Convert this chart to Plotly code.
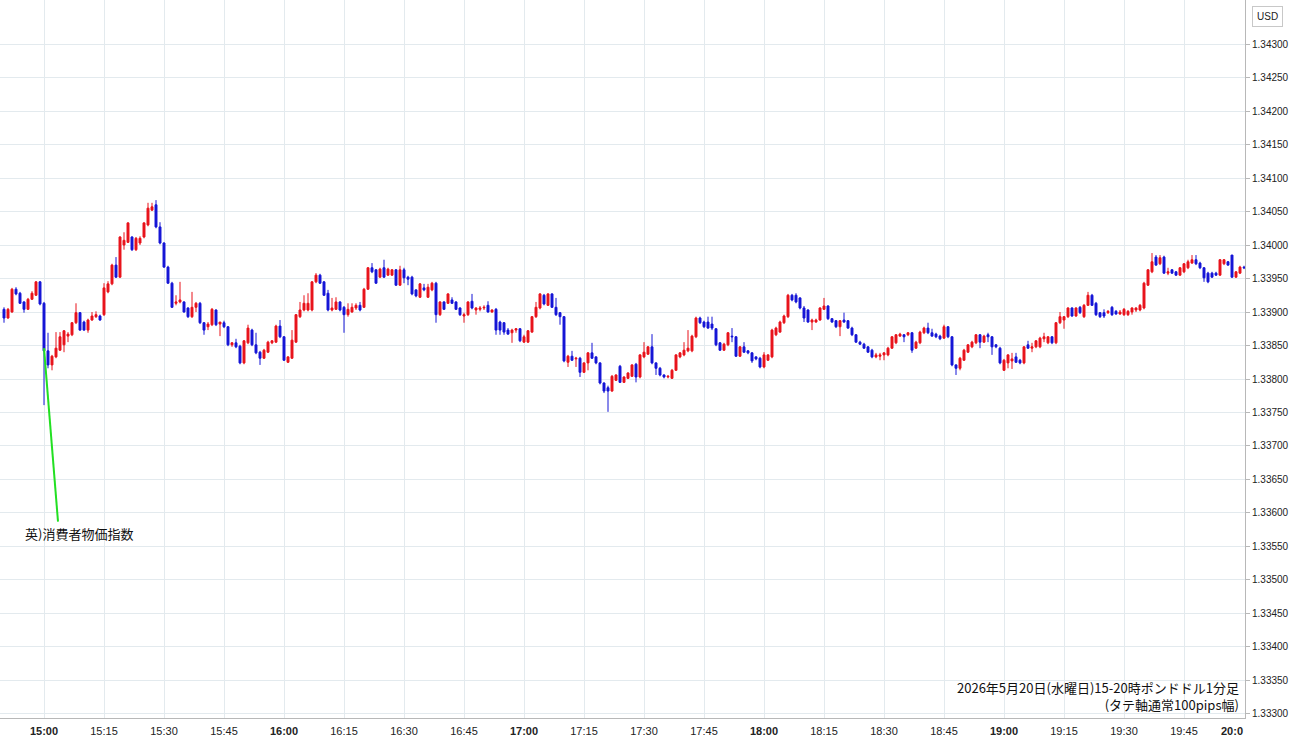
import plotly.graph_objects as go
import pandas as pd

# GBP/USD 1-minute candles, 2026-05-20 14:50 - 20:00
start_time = "2026-05-20 14:50"

opens = [
    1.33904,1.33891,1.33900,1.33934,1.33928,1.33915,1.33904,1.33919,1.33925,1.33945,
    1.33913,1.33842,1.33821,1.33833,1.33843,1.33851,1.33864,1.33866,1.33884,1.33899,
    1.33885,1.33873,1.33888,1.33893,1.33894,1.33896,1.33930,1.33942,1.33970,1.33952,
    1.34000,1.34004,1.34012,1.33993,1.34003,1.34012,1.34030,1.34052,1.34060,1.34027,
    1.34003,1.33967,1.33943,1.33913,1.33915,1.33915,1.33906,1.33893,1.33907,1.33913,
    1.33884,1.33878,1.33881,1.33903,1.33882,1.33884,1.33878,1.33851,1.33854,1.33849,
    1.33824,1.33854,1.33873,1.33851,1.33840,1.33831,1.33840,1.33854,1.33855,1.33879,
    1.33863,1.33825,1.33831,1.33855,1.33893,1.33903,1.33903,1.33903,1.33945,1.33955,
    1.33945,1.33928,1.33903,1.33904,1.33915,1.33907,1.33896,1.33900,1.33906,1.33910,
    1.33907,1.33934,1.33966,1.33963,1.33952,1.33966,1.33955,1.33955,1.33963,1.33940,
    1.33963,1.33952,1.33952,1.33933,1.33922,1.33936,1.33922,1.33933,1.33943,1.33896,
    1.33915,1.33913,1.33918,1.33915,1.33906,1.33894,1.33896,1.33916,1.33903,1.33904,
    1.33906,1.33910,1.33900,1.33904,1.33885,1.33884,1.33873,1.33869,1.33873,1.33875,
    1.33855,1.33855,1.33870,1.33893,1.33906,1.33925,1.33910,1.33927,1.33907,1.33899,
    1.33893,1.33825,1.33834,1.33830,1.33831,1.33810,1.33824,1.33839,1.33833,1.33824,
    1.33794,1.33787,1.33782,1.33798,1.33819,1.33795,1.33801,1.33804,1.33822,1.33803,
    1.33833,1.33837,1.33848,1.33824,1.33816,1.33806,1.33803,1.33801,1.33813,1.33833,
    1.33836,1.33842,1.33842,1.33863,1.33891,1.33885,1.33885,1.33882,1.33875,1.33854,
    1.33843,1.33851,1.33864,1.33863,1.33834,1.33848,1.33842,1.33839,1.33833,1.33831,
    1.33818,1.33828,1.33833,1.33866,1.33870,1.33884,1.33893,1.33925,1.33925,1.33921,
    1.33906,1.33903,1.33885,1.33885,1.33888,1.33904,1.33909,1.33890,1.33887,1.33878,
    1.33888,1.33887,1.33876,1.33866,1.33855,1.33852,1.33848,1.33843,1.33833,1.33834,
    1.33836,1.33836,1.33846,1.33854,1.33864,1.33866,1.33866,1.33869,1.33846,1.33854,
    1.33869,1.33876,1.33869,1.33867,1.33864,1.33861,1.33878,1.33863,1.33821,1.33816,
    1.33828,1.33840,1.33848,1.33854,1.33866,1.33855,1.33866,1.33863,1.33851,1.33846,
    1.33813,1.33824,1.33827,1.33833,1.33828,1.33824,1.33851,1.33846,1.33848,1.33848,
    1.33860,1.33854,1.33863,1.33854,1.33884,1.33888,1.33893,1.33906,1.33894,1.33907,
    1.33893,1.33910,1.33925,1.33913,1.33899,1.33899,1.33899,1.33907,1.33901,1.33897,
    1.33896,1.33896,1.33900,1.33903,1.33903,1.33906,1.33940,1.33960,1.33982,1.33972,
    1.33982,1.33958,1.33963,1.33960,1.33955,1.33960,1.33966,1.33973,1.33978,1.33973,
    1.33966,1.33958,1.33958,1.33958,1.33955,1.33972,1.33975,1.33985,1.33952,1.33958,1.33967,
]

highs = [
    1.33907,1.33906,1.33936,1.33937,1.33930,1.33916,1.33921,1.33931,1.33946,1.33946,
    1.33915,1.33869,1.33836,1.33870,1.33870,1.33873,1.33870,1.33885,1.33913,1.33900,
    1.33887,1.33890,1.33900,1.33901,1.33896,1.33943,1.33946,1.33972,1.33982,1.34013,
    1.34019,1.34034,1.34013,1.34012,1.34013,1.34034,1.34063,1.34063,1.34067,1.34034,
    1.34004,1.33969,1.33945,1.33925,1.33945,1.33916,1.33907,1.33930,1.33915,1.33915,
    1.33885,1.33885,1.33906,1.33904,1.33885,1.33887,1.33879,1.33855,1.33860,1.33851,
    1.33858,1.33881,1.33875,1.33869,1.33842,1.33845,1.33857,1.33858,1.33881,1.33888,
    1.33864,1.33834,1.33873,1.33897,1.33915,1.33925,1.33928,1.33946,1.33958,1.33957,
    1.33946,1.33933,1.33921,1.33922,1.33916,1.33909,1.33913,1.33913,1.33913,1.33915,
    1.33936,1.33967,1.33973,1.33964,1.33966,1.33978,1.33966,1.33964,1.33964,1.33969,
    1.33966,1.33954,1.33954,1.33934,1.33943,1.33942,1.33942,1.33945,1.33945,1.33916,
    1.33916,1.33928,1.33922,1.33916,1.33907,1.33899,1.33916,1.33927,1.33907,1.33909,
    1.33910,1.33916,1.33904,1.33906,1.33887,1.33885,1.33876,1.33875,1.33876,1.33876,
    1.33866,1.33873,1.33894,1.33915,1.33928,1.33927,1.33928,1.33928,1.33921,1.33900,
    1.33894,1.33836,1.33842,1.33833,1.33833,1.33825,1.33840,1.33854,1.33834,1.33825,
    1.33795,1.33790,1.33806,1.33807,1.33821,1.33804,1.33810,1.33822,1.33824,1.33837,
    1.33855,1.33849,1.33867,1.33825,1.33818,1.33807,1.33806,1.33815,1.33837,1.33840,
    1.33855,1.33873,1.33866,1.33893,1.33893,1.33887,1.33893,1.33893,1.33876,1.33855,
    1.33854,1.33870,1.33876,1.33864,1.33849,1.33855,1.33843,1.33840,1.33834,1.33833,
    1.33840,1.33837,1.33875,1.33878,1.33887,1.33896,1.33927,1.33927,1.33928,1.33922,
    1.33909,1.33904,1.33890,1.33890,1.33907,1.33921,1.33910,1.33891,1.33888,1.33888,
    1.33899,1.33888,1.33878,1.33867,1.33857,1.33854,1.33849,1.33845,1.33839,1.33839,
    1.33840,1.33848,1.33864,1.33867,1.33869,1.33867,1.33870,1.33870,1.33857,1.33872,
    1.33878,1.33884,1.33875,1.33869,1.33866,1.33881,1.33879,1.33864,1.33822,1.33833,
    1.33845,1.33852,1.33857,1.33867,1.33867,1.33866,1.33869,1.33864,1.33852,1.33848,
    1.33830,1.33837,1.33839,1.33839,1.33830,1.33849,1.33857,1.33854,1.33858,1.33863,
    1.33869,1.33864,1.33864,1.33885,1.33900,1.33894,1.33907,1.33907,1.33907,1.33909,
    1.33912,1.33930,1.33927,1.33915,1.33900,1.33904,1.33903,1.33909,1.33903,1.33903,
    1.33906,1.33903,1.33907,1.33907,1.33912,1.33945,1.33964,1.33988,1.33985,1.33985,
    1.33984,1.33966,1.33964,1.33961,1.33967,1.33973,1.33978,1.33985,1.33985,1.33975,
    1.33967,1.33960,1.33960,1.33960,1.33979,1.33979,1.33976,1.33985,1.33961,1.33969,1.33969,
]

lows = [
    1.33884,1.33890,1.33899,1.33925,1.33912,1.33899,1.33903,1.33918,1.33924,1.33910,
    1.33761,1.33816,1.33813,1.33831,1.33842,1.33840,1.33855,1.33864,1.33882,1.33872,
    1.33872,1.33869,1.33887,1.33891,1.33887,1.33894,1.33928,1.33940,1.33951,1.33951,
    1.33993,1.34003,1.33991,1.33991,1.34000,1.34010,1.34028,1.34051,1.34025,1.34001,
    1.33966,1.33942,1.33906,1.33910,1.33913,1.33899,1.33891,1.33891,1.33900,1.33882,
    1.33866,1.33873,1.33879,1.33879,1.33864,1.33876,1.33849,1.33848,1.33846,1.33822,
    1.33822,1.33852,1.33849,1.33837,1.33821,1.33830,1.33839,1.33852,1.33854,1.33861,
    1.33827,1.33824,1.33830,1.33854,1.33891,1.33901,1.33901,1.33901,1.33943,1.33942,
    1.33924,1.33901,1.33901,1.33903,1.33901,1.33869,1.33893,1.33899,1.33903,1.33901,
    1.33906,1.33933,1.33958,1.33942,1.33951,1.33951,1.33954,1.33954,1.33939,1.33939,
    1.33943,1.33940,1.33925,1.33922,1.33921,1.33931,1.33921,1.33931,1.33884,1.33894,
    1.33903,1.33912,1.33912,1.33903,1.33894,1.33884,1.33894,1.33904,1.33896,1.33901,
    1.33903,1.33899,1.33899,1.33866,1.33866,1.33866,1.33866,1.33854,1.33869,1.33855,
    1.33854,1.33854,1.33869,1.33891,1.33904,1.33910,1.33909,1.33906,1.33894,1.33881,
    1.33825,1.33818,1.33827,1.33818,1.33803,1.33809,1.33813,1.33830,1.33822,1.33792,
    1.33779,1.33751,1.33781,1.33797,1.33794,1.33794,1.33800,1.33803,1.33795,1.33801,
    1.33831,1.33836,1.33822,1.33806,1.33804,1.33801,1.33801,1.33800,1.33812,1.33831,
    1.33834,1.33840,1.33840,1.33861,1.33882,1.33876,1.33875,1.33873,1.33849,1.33842,
    1.33842,1.33849,1.33855,1.33833,1.33833,1.33839,1.33837,1.33824,1.33828,1.33816,
    1.33816,1.33827,1.33831,1.33864,1.33869,1.33882,1.33891,1.33916,1.33913,1.33904,
    1.33885,1.33884,1.33873,1.33884,1.33887,1.33903,1.33888,1.33884,1.33876,1.33864,
    1.33884,1.33875,1.33864,1.33854,1.33851,1.33845,1.33839,1.33831,1.33831,1.33828,
    1.33828,1.33834,1.33845,1.33852,1.33863,1.33855,1.33864,1.33839,1.33845,1.33852,
    1.33867,1.33867,1.33863,1.33861,1.33858,1.33860,1.33861,1.33819,1.33806,1.33813,
    1.33827,1.33839,1.33846,1.33852,1.33846,1.33854,1.33855,1.33836,1.33846,1.33822,
    1.33812,1.33816,1.33815,1.33824,1.33822,1.33822,1.33845,1.33840,1.33846,1.33846,
    1.33855,1.33852,1.33852,1.33852,1.33882,1.33875,1.33891,1.33893,1.33893,1.33897,
    1.33891,1.33909,1.33909,1.33894,1.33891,1.33891,1.33897,1.33894,1.33896,1.33896,
    1.33894,1.33894,1.33896,1.33900,1.33901,1.33904,1.33939,1.33958,1.33969,1.33970,
    1.33957,1.33955,1.33957,1.33954,1.33954,1.33958,1.33964,1.33972,1.33970,1.33964,
    1.33945,1.33943,1.33951,1.33954,1.33954,1.33970,1.33969,1.33951,1.33951,1.33957,1.33964,
]

closes = [
    1.33891,1.33904,1.33934,1.33927,1.33913,1.33904,1.33919,1.33928,1.33945,1.33912,
    1.33842,1.33821,1.33834,1.33846,1.33863,1.33872,1.33867,1.33884,1.33899,1.33873,
    1.33873,1.33888,1.33894,1.33896,1.33888,1.33936,1.33942,1.33970,1.33952,1.34012,
    1.34007,1.34033,1.33993,1.34010,1.34010,1.34033,1.34055,1.34057,1.34027,1.34003,
    1.33967,1.33943,1.33907,1.33915,1.33918,1.33900,1.33893,1.33907,1.33913,1.33884,
    1.33873,1.33882,1.33904,1.33881,1.33885,1.33878,1.33851,1.33854,1.33848,1.33824,
    1.33857,1.33876,1.33851,1.33839,1.33831,1.33843,1.33855,1.33857,1.33879,1.33863,
    1.33828,1.33833,1.33858,1.33896,1.33903,1.33913,1.33913,1.33945,1.33955,1.33943,
    1.33925,1.33903,1.33906,1.33915,1.33903,1.33896,1.33904,1.33907,1.33910,1.33903,
    1.33934,1.33966,1.33960,1.33943,1.33964,1.33952,1.33964,1.33963,1.33940,1.33963,
    1.33951,1.33949,1.33927,1.33924,1.33942,1.33933,1.33937,1.33943,1.33896,1.33915,
    1.33904,1.33927,1.33913,1.33904,1.33896,1.33896,1.33915,1.33906,1.33906,1.33906,
    1.33907,1.33900,1.33903,1.33873,1.33873,1.33870,1.33867,1.33873,1.33875,1.33857,
    1.33863,1.33872,1.33893,1.33907,1.33927,1.33912,1.33927,1.33907,1.33896,1.33893,
    1.33827,1.33834,1.33828,1.33831,1.33810,1.33824,1.33839,1.33831,1.33824,1.33794,
    1.33782,1.33782,1.33804,1.33806,1.33795,1.33803,1.33809,1.33821,1.33803,1.33836,
    1.33840,1.33848,1.33824,1.33816,1.33806,1.33803,1.33804,1.33813,1.33836,1.33839,
    1.33843,1.33846,1.33864,1.33891,1.33884,1.33878,1.33876,1.33876,1.33851,1.33843,
    1.33852,1.33869,1.33863,1.33834,1.33848,1.33840,1.33839,1.33827,1.33830,1.33818,
    1.33836,1.33836,1.33873,1.33876,1.33885,1.33894,1.33925,1.33918,1.33915,1.33906,
    1.33891,1.33885,1.33888,1.33888,1.33906,1.33909,1.33890,1.33885,1.33878,1.33887,
    1.33885,1.33876,1.33866,1.33855,1.33852,1.33846,1.33840,1.33833,1.33836,1.33836,
    1.33839,1.33846,1.33863,1.33866,1.33867,1.33863,1.33869,1.33843,1.33855,1.33870,
    1.33876,1.33869,1.33864,1.33863,1.33860,1.33878,1.33863,1.33821,1.33816,1.33831,
    1.33843,1.33851,1.33855,1.33866,1.33855,1.33864,1.33863,1.33848,1.33848,1.33824,
    1.33828,1.33836,1.33830,1.33825,1.33824,1.33848,1.33846,1.33848,1.33857,1.33861,
    1.33863,1.33863,1.33854,1.33884,1.33893,1.33893,1.33906,1.33894,1.33906,1.33899,
    1.33910,1.33925,1.33910,1.33896,1.33893,1.33894,1.33901,1.33896,1.33897,1.33900,
    1.33904,1.33901,1.33906,1.33906,1.33910,1.33943,1.33963,1.33975,1.33970,1.33981,
    1.33958,1.33960,1.33958,1.33955,1.33966,1.33972,1.33975,1.33978,1.33972,1.33966,
    1.33951,1.33945,1.33952,1.33955,1.33978,1.33978,1.33970,1.33952,1.33960,1.33967,1.33966,
]

tick_times = [
    "2026-05-20 15:00", "2026-05-20 15:15", "2026-05-20 15:30", "2026-05-20 15:45",
    "2026-05-20 16:00", "2026-05-20 16:15", "2026-05-20 16:30", "2026-05-20 16:45",
    "2026-05-20 17:00", "2026-05-20 17:15", "2026-05-20 17:30", "2026-05-20 17:45",
    "2026-05-20 18:00", "2026-05-20 18:15", "2026-05-20 18:30", "2026-05-20 18:45",
    "2026-05-20 19:00", "2026-05-20 19:15", "2026-05-20 19:30", "2026-05-20 19:45",
]
tick_labels = [
    "<b>15:00</b>", "15:15", "15:30", "15:45",
    "<b>16:00</b>", "16:15", "16:30", "16:45",
    "<b>17:00</b>", "17:15", "17:30", "17:45",
    "<b>18:00</b>", "18:15", "18:30", "18:45",
    "<b>19:00</b>", "19:15", "19:30", "19:45",
]
price_ticks = [1.33300 + 0.0005 * k for k in range(21)]
price_labels = [f"{v:.5f}" for v in price_ticks]

event_label = "英)消費者物価指数"
title_lines = ["2026年5月20日(水曜日)15-20時ポンドドル1分足", "(タテ軸通常100pips幅)"]

times = pd.date_range(start_time, periods=len(closes), freq="min")

RED = "#e8131b"
BLUE = "#1515d6"
GRID = "#e3eaee"
LATIN = "Liberation Sans, Arial, sans-serif"
CJK = "Noto Sans CJK JP, sans-serif"

fig = go.Figure()
fig.add_trace(go.Candlestick(
    x=times, open=opens, high=highs, low=lows, close=closes,
    increasing=dict(line=dict(color=RED, width=1), fillcolor=RED),
    decreasing=dict(line=dict(color=BLUE, width=1), fillcolor=BLUE),
    whiskerwidth=0, hoverinfo="skip", showlegend=False,
))

# event marker line
fig.add_shape(type="line", xref="x", yref="y",
              x0="2026-05-20 15:00:00", y0=1.33846,
              x1="2026-05-20 15:03:30", y1=1.33587,
              line=dict(color="#22e022", width=2))

fig.add_annotation(xref="x", yref="y", x="2026-05-20 15:08:45", y=1.33569,
                   text=event_label, showarrow=False,
                   font=dict(family=CJK, size=13, color="#111"),
                   xanchor="center", yanchor="middle")

fig.add_annotation(xref="paper", yref="paper", x=0.9968, y=(718 - 716) / 718,
                   text="<br>".join(title_lines), showarrow=False, align="right",
                   font=dict(family=CJK, size=13, color="#111"),
                   xanchor="right", yanchor="bottom")

# cut-off final time label and currency badge
fig.add_annotation(xref="paper", yref="paper", x=1.0, y=-(731 - 718) / 718,
                   text="<b>20:0</b>", showarrow=False,
                   font=dict(family=LATIN, size=11, color="#222"),
                   xanchor="right", yanchor="middle")
fig.add_annotation(xref="paper", yref="paper", x=1267 / 1245, y=(718 - 17) / 718,
                   text="USD", showarrow=False,
                   font=dict(family=LATIN, size=10, color="#222"),
                   xanchor="center", yanchor="middle",
                   bordercolor="#c8c8c8", borderwidth=1, borderpad=4,
                   bgcolor="white")

fig.update_layout(
    width=1300, height=745,
    margin=dict(l=0, r=55, t=0, b=27),
    paper_bgcolor="white", plot_bgcolor="white",
    showlegend=False, hovermode=False,
    xaxis=dict(
        type="date",
        range=["2026-05-20 14:49:00", "2026-05-20 20:00:15"],
        tickmode="array", tickvals=tick_times, ticktext=tick_labels,
        showgrid=True, gridcolor=GRID, gridwidth=1,
        rangeslider=dict(visible=False),
        showline=True, linecolor="#b8b8b8", linewidth=1, mirror=False,
        ticks="", ticklabelstandoff=3,
        tickfont=dict(family=LATIN, size=11, color="#222"),
        zeroline=False, fixedrange=True,
    ),
    yaxis=dict(
        side="right",
        range=[1.33294, 1.343657],
        tickmode="array", tickvals=price_ticks, ticktext=price_labels,
        showgrid=True, gridcolor=GRID, gridwidth=1,
        showline=True, linecolor="#b8b8b8", linewidth=1,
        ticks="outside", ticklen=4, tickcolor="#b8b8b8",
        tickfont=dict(family=LATIN, size=10, color="#222"),
        zeroline=False, fixedrange=True,
    ),
)

fig.write_html("out.html",
               config={"displayModeBar": False, "staticPlot": True},
               post_script="document.body.style.margin='0';document.body.style.overflow='hidden';")
